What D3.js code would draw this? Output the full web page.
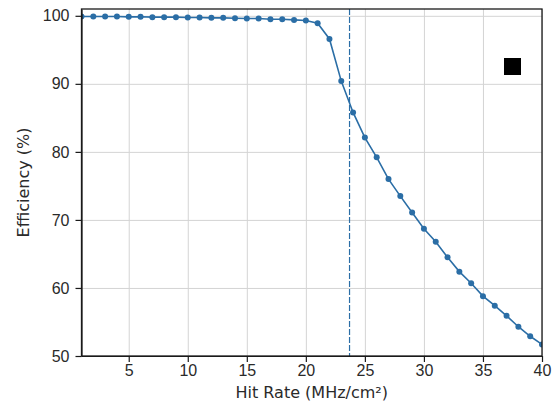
<!DOCTYPE html>
<html>
<head>
<meta charset="utf-8">
<script src="https://cdn.jsdelivr.net/npm/d3@7"></script>
<style>
body { margin: 0; background: #fff; }
svg { display: block; font-family: "DejaVu Sans", sans-serif; }
.axis text { font-size: 16px; fill: #2a2a2a; }
.axis path, .axis line { stroke: #1a1a1a; stroke-width: 1.2; }
.grid line { stroke: #d4d4d4; stroke-width: 1; }
.grid path { display: none; }
</style>
</head>
<body>
<div id="chart"></div>
<script>
//DATA
var hitRate = [1, 2, 3, 4, 5, 6, 7, 8, 9, 10, 11, 12, 13, 14, 15, 16, 17, 18, 19, 20,
	21, 22, 23, 24, 25, 26, 27, 28, 29, 30, 31, 32, 33, 34, 35, 36, 37, 38, 39, 40];
var efficiency = [99.9, 99.9, 99.9, 99.9, 99.85, 99.85, 99.8, 99.8, 99.8, 99.75,
	99.75, 99.7, 99.7, 99.65, 99.6, 99.6, 99.5, 99.5, 99.4, 99.3,
	98.9, 96.6, 90.4, 85.8, 82.1, 79.2, 76.0, 73.5, 71.1, 68.7,
	66.8, 64.5, 62.4, 60.7, 58.8, 57.4, 55.9, 54.3, 52.9, 51.7];
var xTicks = [5, 10, 15, 20, 25, 30, 35, 40];
var yTicks = [50, 60, 70, 80, 90, 100];
var threshold = 23.7;

//SETUP
var width = 554,
	height = 405,
	margin = {top: 9, right: 12, bottom: 49, left: 81.5};

var innerW = width - margin.left - margin.right,
	innerH = height - margin.top - margin.bottom;

var color = '#2b6ea6';

var svg = d3.select('#chart').append('svg')
	.attr('width', width)
	.attr('height', height);

var g = svg.append('g')
	.attr('transform', 'translate(' + margin.left + ',' + margin.top + ')');

var x = d3.scaleLinear().domain([1, 40]).range([0, innerW]);
var y = d3.scaleLinear().domain([50, 101]).range([innerH, 0]);

//grid
g.append('g')
	.attr('class', 'grid')
	.attr('transform', 'translate(0,' + innerH + ')')
	.call(d3.axisBottom(x).tickValues(xTicks).tickSize(-innerH).tickFormat(''));

g.append('g')
	.attr('class', 'grid')
	.call(d3.axisLeft(y).tickValues(yTicks).tickSize(-innerW).tickFormat(''));

g.append('clipPath')
	.attr('id', 'clip')
  .append('rect')
	.attr('width', innerW)
	.attr('height', innerH);

var plot = g.append('g').attr('clip-path', 'url(#clip)');

//threshold line
plot.append('line')
	.attr('x1', x(threshold))
	.attr('x2', x(threshold))
	.attr('y1', 0)
	.attr('y2', innerH)
	.attr('stroke', color)
	.attr('stroke-width', 1.2)
	.attr('stroke-dasharray', '6,2');

var points = hitRate.map(function(d, i) { return [d, efficiency[i]]; });

var line = d3.line()
	.x(function(d) { return x(d[0]); })
	.y(function(d) { return y(d[1]); });

plot.append('path')
	.datum(points)
	.attr('fill', 'none')
	.attr('stroke', color)
	.attr('stroke-width', 1.6)
	.attr('d', line);

plot.selectAll('.dot')
	.data(points)
  .enter().append('circle')
	.attr('class', 'dot')
	.attr('cx', function(d) { return x(d[0]); })
	.attr('cy', function(d) { return y(d[1]); })
	.attr('r', 3)
	.attr('fill', color);

//axes
g.append('g')
	.attr('class', 'axis')
	.attr('transform', 'translate(0,' + innerH + ')')
	.call(d3.axisBottom(x).tickValues(xTicks).tickSize(6).tickPadding(3).tickSizeOuter(0));

g.append('g')
	.attr('class', 'axis')
	.call(d3.axisLeft(y).tickValues(yTicks).tickSize(6).tickPadding(6).tickSizeOuter(0));

//frame
g.append('rect')
	.attr('width', innerW)
	.attr('height', innerH)
	.attr('fill', 'none')
	.attr('stroke', '#1a1a1a')
	.attr('stroke-width', 1.3);

//labels
svg.append('text')
	.attr('x', margin.left + innerW / 2)
	.attr('y', 398)
	.attr('text-anchor', 'middle')
	.style('font-size', '16px')
	.style('fill', '#2a2a2a')
	.text('Hit Rate (MHz/cm²)');

svg.append('text')
	.attr('transform', 'translate(29,' + (margin.top + innerH / 2) + ') rotate(-90)')
	.attr('text-anchor', 'middle')
	.style('font-size', '16px')
	.style('fill', '#2a2a2a')
	.text('Efficiency (%)');

//black marker square
svg.append('rect')
	.attr('x', 504)
	.attr('y', 58)
	.attr('width', 17)
	.attr('height', 17)
	.attr('fill', '#000');
</script>
</body>
</html>
